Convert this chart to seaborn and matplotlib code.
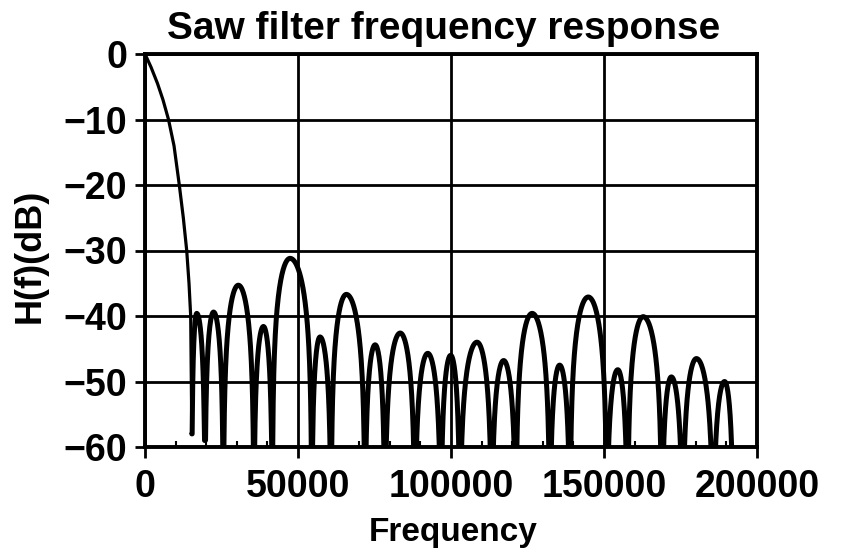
import numpy as np
import pandas as pd
import matplotlib
matplotlib.use("Agg")
import matplotlib.pyplot as plt
import seaborn as sns
from matplotlib.ticker import MultipleLocator

# Main lobe, traced point by point (Hz, dB)
main_lobe_freq = [0, 1960, 4085, 5880, 7680, 9480, 11210, 12520, 13630, 14380, 14930, 15300]
main_lobe_db = [0.0, -2.0, -4.5, -7.0, -10.0, -14.0, -20.0, -25.0, -30.0, -35.0, -40.0, -58.0]

# Side lobes: null (boundary) frequencies, null depths, peak positions and levels
null_freq = [15300, 19600, 25600, 35600, 41600, 54500, 60800, 71900, 78400,
             88200, 96700, 102900, 113300, 121200, 132300, 138900, 150900,
             157700, 168900, 175700, 185700, 192300]
null_db = [-58, -59, -62, -62, -62, -62, -62, -62, -62, -62, -62, -62, -62,
           -62, -62, -62, -62, -62, -62, -62, -62, -62]
peak_freq = [16900, 22400, 30500, 38700, 47400, 57200, 65800, 75200, 83400,
             92400, 99900, 108500, 117200, 126500, 135500, 144850, 154500,
             162800, 172000, 180200, 189400]
peak_db = [-39.6, -39.4, -35.3, -41.6, -31.2, -43.2, -36.7, -44.4, -42.6,
           -45.7, -46.0, -44.0, -46.8, -39.6, -47.5, -37.1, -48.2, -40.1,
           -49.3, -46.5, -50.0]

x_ticks = [0, 50000, 100000, 150000, 200000]
y_ticks = [-60, -50, -40, -30, -20, -10, 0]


def lobe_outline(a, c, b, level, floor_a, floor_b, n=60):
    """Arch of one side lobe between nulls a and b, peaking at c."""
    fl = np.linspace(a, c, n)
    fr = np.linspace(c, b, n)[1:]
    left = level + 20 * np.log10(np.maximum(np.sin(0.5 * np.pi * (fl - a) / (c - a)), 1e-6))
    right = level + 20 * np.log10(np.maximum(np.cos(0.5 * np.pi * (fr - c) / (b - c)), 1e-6))
    return (np.concatenate([fl, fr]),
            np.concatenate([np.maximum(left, floor_a), np.maximum(right, floor_b)]))


main_df = pd.DataFrame({"Frequency": main_lobe_freq, "H(f)(dB)": main_lobe_db})

side_f, side_d = [], []
for i in range(len(peak_freq)):
    f, d = lobe_outline(null_freq[i], peak_freq[i], null_freq[i + 1], peak_db[i],
                        null_db[i], null_db[i + 1])
    side_f.extend(f)
    side_d.extend(d)
side_df = pd.DataFrame({"Frequency": side_f, "H(f)(dB)": side_d})

sns.set_theme(style="white")
plt.rcParams["font.family"] = ["Liberation Sans", "DejaVu Sans"]
plt.rcParams["font.weight"] = "bold"
plt.rcParams["axes.unicode_minus"] = True

fig = plt.figure(figsize=(8.47, 5.56), dpi=100)
ax = fig.add_axes([145 / 847, 1 - 447 / 556, 612 / 847, 393 / 556])

sns.lineplot(data=main_df, x="Frequency", y="H(f)(dB)", sort=False, estimator=None,
             color="black", linewidth=2.3, ax=ax, zorder=3)
sns.lineplot(data=side_df, x="Frequency", y="H(f)(dB)", sort=False, estimator=None,
             color="black", linewidth=3.6, ax=ax, zorder=3)

ax.set_xlim(0, 200000)
ax.set_ylim(-60, 0)
ax.set_xticks(x_ticks)
ax.set_yticks(y_ticks)
ax.set_xticklabels([str(t) for t in x_ticks])
ax.set_yticklabels([str(t).replace("-", "\u2212") for t in y_ticks])
ax.xaxis.set_minor_locator(MultipleLocator(10000))

ax.grid(True, which="major", color="black", linewidth=2.0)
for s in ax.spines.values():
    s.set_color("black")
    s.set_linewidth(2.8)

ax.tick_params(axis="x", which="major", direction="out", length=8, width=2,
               color="black", pad=8, labelsize=27, labelcolor="black", bottom=True)
ax.tick_params(axis="x", which="minor", direction="in", length=4, width=1.5,
               color="black", bottom=True)
ax.tick_params(axis="y", which="major", direction="out", length=7, width=2,
               color="black", pad=6, labelsize=27, labelcolor="black", left=True)

ax.set_xlabel("Frequency", fontsize=24, fontweight="bold", color="black", va="center")
ax.xaxis.set_label_coords(0.503, (447 - 533) / 393)
ax.set_ylabel("H(f)(dB)", fontsize=26, fontweight="bold", color="black", va="center")
ax.yaxis.set_label_coords((30 - 145) / 612, (447 - 256) / 393)

fig.text(444 / 847, 1 - 29 / 556, "Saw filter frequency response", ha="center",
         va="center", fontsize=28, fontweight="bold", color="black")

fig.savefig("out.png", dpi=100, facecolor="white")
